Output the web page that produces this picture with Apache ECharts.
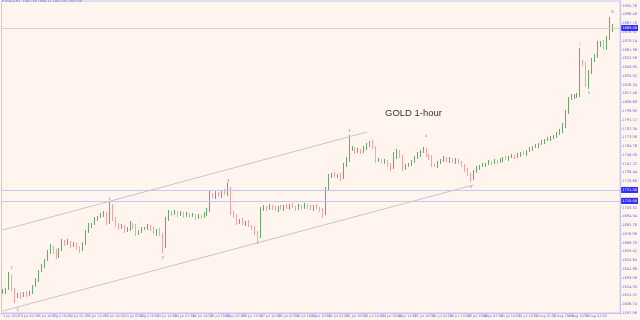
<!DOCTYPE html>
<html><head><meta charset="utf-8">
<script src="https://cdn.jsdelivr.net/npm/echarts@6/dist/echarts.min.js"></script>
<style>html,body{margin:0;padding:0;background:#fff5ee}#c{width:640px;height:320px}</style>
</head><body><div id="c"></div>
<script>
const firstOpen = 1619;
const closes = [
1620,1622,1635,1621,1615,1617,1615,1618,1616,1619,
1625,1631,1640,1645,1651,1659,1664,1660,1654,1661,
1670,1667,1669,1665,1667,1663,1661,1668,1679,1685,
1687,1692,1694,1696,1697,1689,1704,1692,1687,1683,
1685,1680,1682,1687,1685,1677,1680,1682,1683,1685,
1682,1678,1681,1677,1665,1691,1699,1697,1699,1696,
1698,1695,1697,1695,1696,1693,1695,1694,1697,1701,
1716,1714,1718,1715,1719,1717,1722,1699,1695,1689,
1691,1687,1689,1685,1683,1679,1675,1701,1704,1702,
1705,1703,1701,1704,1702,1705,1703,1706,1704,1702,
1705,1703,1706,1704,1702,1705,1703,1701,1698,1721,
1735,1737,1735,1736,1733,1746,1751,1763,1763,1759,
1761,1759,1763,1765,1768,1764,1751,1751,1749,1750,
1746,1743,1754,1759,1755,1743,1745,1747,1749,1753,
1756,1759,1761,1756,1754,1746,1745,1748,1751,1753,
1750,1752,1749,1751,1748,1746,1741,1737,1733,1739,
1743,1745,1746,1747,1749,1748,1750,1749,1751,1753,
1752,1754,1755,1754,1756,1758,1757,1760,1762,1764,
1765,1767,1769,1771,1772,1773,1775,1777,1780,1785,
1799,1812,1814,1815,1816,1848,1847,1827,1839,1851,
1855,1867,1868,1863,1873,1882,1883
];
const wickUp = [
2,1,4,1,2,1,2,1,2,1, 1,2,1,2,1,2,3,1,2,2, 2,1,3,1,2,1,2,1,2,3, 1,2,1,2,3,2,6,3,2,1,
2,1,2,3,1,2,1,2,1,2, 1,2,1,2,1,3,2,1,2,1, 2,1,2,1,2,1,2,1,2,2, 5,2,3,1,2,3,6,2,1,2,
1,2,1,2,1,2,1,3,2,1, 2,1,2,1,2,1,2,1,2,1, 2,1,2,1,2,1,2,1,2,3, 2,1,2,1,2,2,3,13,2,1,
2,1,2,3,2,3,1,2,1,2, 1,2,5,3,2,1,2,1,2,2, 3,2,3,2,1,2,1,2,1,2, 1,2,1,2,1,2,1,2,1,2,
2,1,2,1,2,1,2,1,2,1, 2,1,2,1,2,1,2,1,2,1, 2,1,2,1,2,2,1,2,2,3, 2,2,3,2,2,15,3,2,2,2,
2,3,2,3,2,12,4
];
const wickDown = [
2,3,1,2,7,2,3,1,2,1, 2,1,2,1,2,1,2,3,2,1, 1,2,1,2,1,2,3,1,2,1, 2,1,2,1,2,3,2,2,3,2,
1,2,1,2,3,2,1,2,1,2, 2,1,3,2,7,2,1,2,1,2, 1,2,1,2,1,2,1,2,1,2, 2,1,2,1,2,1,2,3,2,3,
2,1,2,1,2,3,5,2,1,2, 1,2,1,2,1,2,1,2,1,2, 1,2,1,2,1,2,1,2,5,2, 1,2,1,2,3,1,2,2,3,2,
1,2,1,2,1,2,3,2,1,2, 2,3,1,2,2,3,2,1,2,1, 1,2,1,2,3,2,1,2,1,2, 1,2,1,2,1,2,2,2,4,2,
1,2,1,2,1,2,1,2,1,2, 1,2,1,2,1,2,1,2,1,2, 1,2,1,2,1,2,1,2,1,2, 2,2,1,2,2,2,2,3,5,2,
2,2,3,2,2,2,3
];
const tickLabels = [
"3 Jul 2020","6 Jul 02:00","6 Jul 18:00","7 Jul 10:00","8 Jul 02:00","8 Jul 18:00","9 Jul 10:00","10 Jul 02:00","10 Jul 18:00","13 Jul 10:00",
"14 Jul 02:00","14 Jul 18:00","15 Jul 10:00","16 Jul 02:00","16 Jul 18:00","17 Jul 10:00","20 Jul 02:00","20 Jul 18:00","21 Jul 10:00","22 Jul 02:00",
"22 Jul 18:00","23 Jul 10:00","24 Jul 02:00","24 Jul 18:00","27 Jul 10:00","28 Jul 02:00","28 Jul 18:00","29 Jul 10:00","30 Jul 02:00","30 Jul 18:00",
"31 Jul 10:00","3 Aug 02:00","3 Aug 18:00","4 Aug 10:00","5 Aug 02:00","5 Aug 18:00"
];
const levels = [1883, 1721, 1710];
const levelColors = ['#d9d2c8', '#c6c6f2', '#c6c6f2'];
const channelUpper = [[0, 1681], [123, 1779]];
const channelLower = [[0, 1600], [159, 1726]];
const waveLabels = [
  {t:'1', i:3, p:1643}, {t:'2', i:5, p:1601}, {t:'1', i:36, p:1712}, {t:'2', i:54, p:1653},
  {t:'3', i:76, p:1730}, {t:'4', i:86, p:1668}, {t:'3', i:117, p:1780}, {t:'a', i:143, p:1775},
  {t:'4', i:158, p:1724}, {t:'i', i:195, p:1866}, {t:'ii', i:198, p:1818}, {t:'iii', i:206, p:1899}
];
const headerText = '\u25BE GOLD,H1  1882.36 1884.12 1881.85 1883.00';

const nSlots = 209;
const cats = [];
for (let i = 0; i < nSlots; i++) cats.push(String(i));
const ohlc = closes.map((c, i) => {
  const o = i === 0 ? firstOpen : closes[i - 1];
  return [o, c, Math.min(o, c) - wickDown[i], Math.max(o, c) + wickUp[i]];
});
const tickPos = {};
tickLabels.forEach((l, k) => { tickPos[Math.round(k * 5.8)] = l; });

const chart = echarts.init(document.getElementById('c'), null, {renderer: 'canvas'});
const axisCol = '#c6c6f2';
const txtCol = '#6b6be0';
chart.setOption({
  backgroundColor: '#fff5ee',
  animation: false,
  textStyle: {fontFamily: 'DejaVu Sans'},
  grid: {left: 1, right: 13, top: 1, bottom: 7, show: true, borderColor: axisCol, borderWidth: 1},
  title: [
    {text: 'GOLD 1-hour', left: 385, top: 108, padding: 0, textStyle: {fontSize: 9.5, fontWeight: 'normal', color: '#333', fontFamily: 'Liberation Sans'}},
    {text: headerText, left: 2, top: 0, padding: 0, textStyle: {fontSize: 3.4, fontWeight: 'normal', color: txtCol}}
  ],
  xAxis: {
    type: 'category', data: cats, boundaryGap: true,
    axisLine: {lineStyle: {color: axisCol}},
    axisTick: {show: true, length: 2, lineStyle: {color: axisCol}, interval: (idx) => tickPos[idx] !== undefined},
    axisLabel: {
      interval: (idx) => tickPos[idx] !== undefined,
      formatter: (v) => tickPos[+v] || '',
      fontSize: 3.4, color: txtCol, margin: 2, align: 'left'
    },
    splitLine: {show: false}
  },
  yAxis: {
    type: 'value', position: 'right', scale: true,
    min: 1597.96, max: 1909.96, interval: 8.78,
    axisLine: {show: true, lineStyle: {color: axisCol}},
    axisTick: {show: true, length: 2, lineStyle: {color: axisCol}},
    axisLabel: {fontSize: 3.6, color: txtCol, margin: 2, showMaxLabel: false, formatter: (v) => v.toFixed(2)},
    splitLine: {show: false}
  },
  series: [
    {
      type: 'candlestick', data: ohlc, barWidth: 1.2,
      itemStyle: {color: '#3f8f3f', color0: '#f07e7e', borderColor: '#6aa86a', borderColor0: '#f4a4a4', borderWidth: 1},
      markLine: {
        symbol: 'none', silent: true, animation: false,
        data: levels.map((v, k) => ({
          yAxis: v,
          lineStyle: {color: levelColors[k], width: 1, type: 'solid'},
          label: {show: true, position: 'end', formatter: v.toFixed(2), fontSize: 3.6, color: '#fff', backgroundColor: '#2b2bff', padding: [1, 1], distance: 1}
        })).concat([
          [{coord: channelUpper[0]}, {coord: channelUpper[1]}],
          [{coord: channelLower[0]}, {coord: channelLower[1]}]
        ].map(d => { d[0].lineStyle = {color: '#c9c6c2', width: 1, type: 'solid'}; d[0].label = {show: false}; return d; }))
      }
    },
    {
      type: 'scatter', symbolSize: 0, silent: true,
      data: waveLabels.map(w => ({value: [w.i, w.p], label: {show: true, formatter: w.t, position: 'inside', fontSize: 4, color: '#6b6be0'}}))
    }
  ]
});
</script></body></html>
